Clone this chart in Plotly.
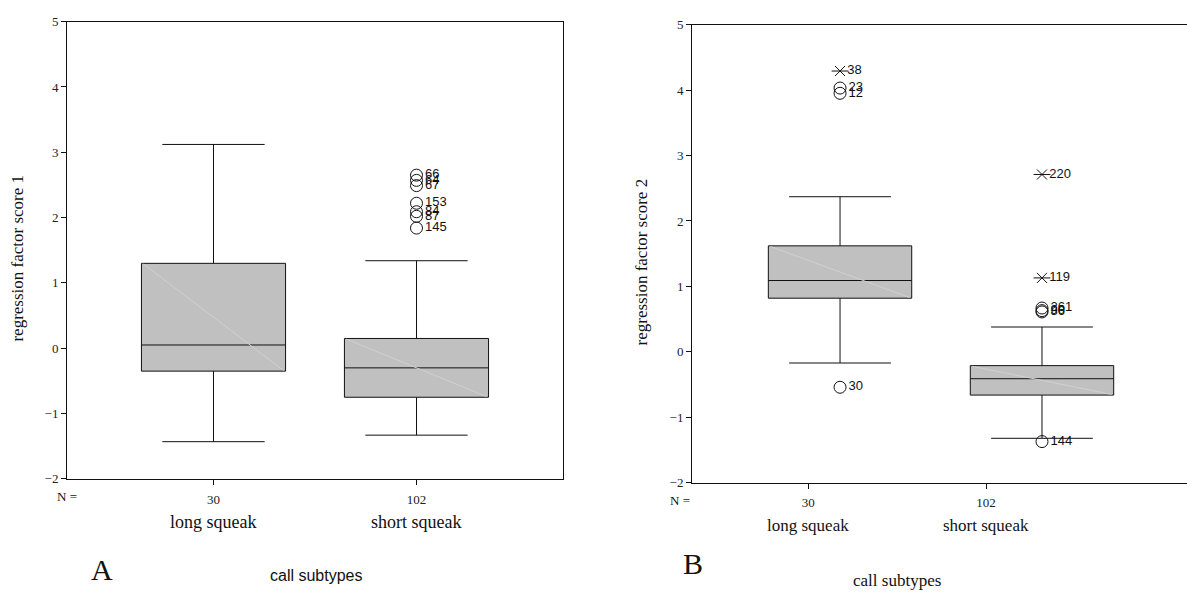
import plotly.graph_objects as go

W, H = 1187, 601

# ---- data -------------------------------------------------------------
groups = ["long squeak", "short squeak"]
n_counts = ["30", "102"]

# factor score 1 (panel A): box summaries per call subtype
a_q1 = [-0.35, -0.75]
a_median = [0.05, -0.30]
a_q3 = [1.30, 0.15]
a_low = [-1.43, -1.33]
a_high = [3.12, 1.34]

# factor score 1 outliers (short squeak)
a_out_group = [1, 1, 1, 1, 1, 1, 1]
a_out_value = [2.65, 2.57, 2.49, 2.22, 2.09, 2.02, 1.84]
a_out_label = ["66", "64", "67", "153", "84", "87", "145"]
a_out_kind = ["o", "o", "o", "o", "o", "o", "o"]

# factor score 2 (panel B)
b_q1 = [0.82, -0.66]
b_median = [1.09, -0.41]
b_q3 = [1.62, -0.21]
b_low = [-0.17, -1.32]
b_high = [2.37, 0.38]

# factor score 2 outliers ("o" = outlier, "*" = extreme value)
b_out_group = [0, 0, 0, 0, 1, 1, 1, 1, 1, 1]
b_out_value = [4.29, 4.03, 3.95, -0.54, 2.71, 1.13, 0.67, 0.63, 0.61, -1.37]
b_out_label = ["38", "23", "12", "30", "220", "119", "261", "90", "86", "144"]
b_out_kind = ["*", "o", "o", "o", "*", "*", "o", "o", "o", "o"]

# ---- layout constants -------------------------------------------------
BOX_W = 0.71
SERIF = "Liberation Serif, Times New Roman, serif"
SANS = "Liberation Sans, Arial, sans-serif"


def px(x):
    return x / W


def py(y):
    return 1 - y / H


fig = go.Figure()


def add_panel(xa, ya, q1, med, q3, lo, hi, og, ov, ol, ok):
    xs = list(range(len(groups)))
    fig.add_trace(go.Box(
        x=xs, q1=q1, median=med, q3=q3, lowerfence=lo, upperfence=hi,
        width=BOX_W, whiskerwidth=0.71, boxpoints=False,
        fillcolor="#C0C0C0", line=dict(color="#111111", width=1),
        xaxis=xa, yaxis=ya, showlegend=False, hoverinfo="skip",
    ))
    # faint diagonal sheen across each box
    dx, dy = [], []
    for i in xs:
        dx += [i - BOX_W / 2 + 0.01, i + BOX_W / 2 - 0.01, None]
        dy += [q3[i] - 0.01, q1[i] + 0.01, None]
    fig.add_trace(go.Scatter(
        x=dx, y=dy, mode="lines", line=dict(color="#D0D0D0", width=1),
        xaxis=xa, yaxis=ya, showlegend=False, hoverinfo="skip",
    ))
    # outliers: circles and asterisks with case labels
    for kind in ("o", "*"):
        gx = [g for g, k in zip(og, ok) if k == kind]
        gy = [v for v, k in zip(ov, ok) if k == kind]
        gt = [t for t, k in zip(ol, ok) if k == kind]
        if not gx:
            continue
        if kind == "o":
            symbols = [("circle-open", 12)]
        else:
            symbols = [("x-thin-open", 10), ("line-ew-open", 12)]
        for j, (sym, size) in enumerate(symbols):
            fig.add_trace(go.Scatter(
                x=gx, y=gy, mode="markers+text" if j == 0 else "markers",
                text=gt if j == 0 else None,
                textposition="middle right",
                textfont=dict(family=SANS, size=13, color="#111111"),
                marker=dict(symbol=sym, size=size, color="#111111",
                            line=dict(color="#111111", width=1)),
                xaxis=xa, yaxis=ya, showlegend=False, hoverinfo="skip",
                cliponaxis=False,
            ))


add_panel("x", "y", a_q1, a_median, a_q3, a_low, a_high,
          a_out_group, a_out_value, a_out_label, a_out_kind)
add_panel("x2", "y2", b_q1, b_median, b_q3, b_low, b_high,
          b_out_group, b_out_value, b_out_label, b_out_kind)

axis_common = dict(
    showline=True, linecolor="#111111", linewidth=1, showgrid=False,
    zeroline=False, ticks="outside", ticklen=5, tickcolor="#111111",
    tickfont=dict(family=SERIF, size=13, color="#222222"),
)

fig.update_layout(
    width=W, height=H, margin=dict(l=0, r=0, t=0, b=0),
    paper_bgcolor="white", plot_bgcolor="white",
    xaxis=dict(axis_common, domain=[px(67), px(563)],
               range=[-0.7217, 1.7217], mirror=True, anchor="y",
               tickvals=[0, 1], ticktext=n_counts, ticklabelstandoff=3),
    yaxis=dict(axis_common, domain=[py(484), py(15)], range=[-2, 5],
               dtick=1, mirror=True, anchor="x"),
    xaxis2=dict(axis_common, domain=[px(692), 1.0],
                range=[-0.733, 1.718], mirror=True, anchor="y2",
                tickvals=[-0.158, 0.723], ticktext=n_counts,
                ticklabelstandoff=3),
    yaxis2=dict(axis_common, domain=[py(488), py(18)], range=[-2, 5],
                dtick=1, anchor="x2"),
)


def note(text, x, y, size, family, angle=0):
    fig.add_annotation(
        text=text, x=px(x), y=py(y), xref="paper", yref="paper",
        showarrow=False, textangle=angle, xanchor="center", yanchor="middle",
        font=dict(family=family, size=size, color="#111111"),
    )


# panel A text
note("N =", 67, 502, 13, SERIF)
note(groups[0], 213, 528, 18, SERIF)
note(groups[1], 416, 528, 18, SERIF)
note("regression factor score 1", 18, 258, 17, SERIF, -90)
note("A", 102, 577, 30, SERIF)
note("call subtypes", 316, 583, 16, SANS)

# panel B text
note("N =", 680, 506, 13, SERIF)
note(groups[0], 808, 532, 17, SERIF)
note(groups[1], 986, 532, 17, SERIF)
note("regression factor score 2", 641, 262, 17, SERIF, -90)
note("B", 693, 571, 30, SERIF)
note("call subtypes", 897, 588, 17, SERIF)

fig.write_html("out.html")
